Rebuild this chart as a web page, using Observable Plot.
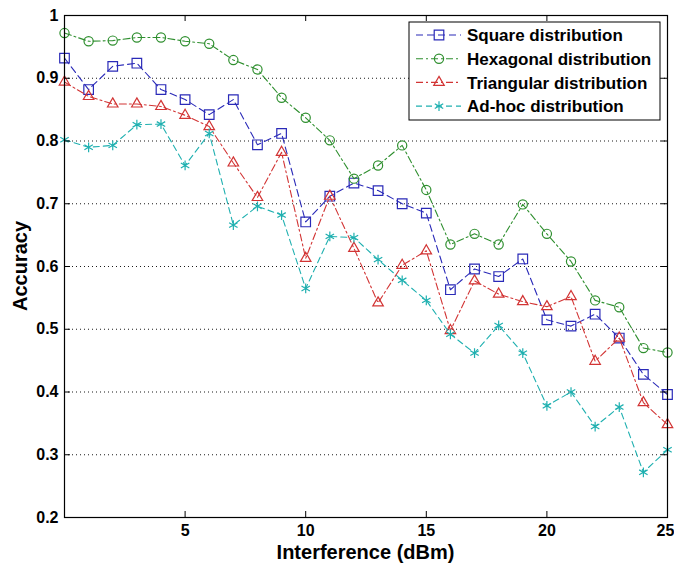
<!DOCTYPE html>
<html>
<head>
<meta charset="utf-8">
<script src="https://cdn.jsdelivr.net/npm/d3@7"></script>
<script src="https://cdn.jsdelivr.net/npm/@observablehq/plot@0.6"></script>
<style>
  body { margin: 0; background: #fff; }
  #chart svg { font-family: "Liberation Sans", Arial, sans-serif; background: #fff; }
</style>
</head>
<body>
<div id="chart"></div>
<script>
// Interference levels (dBm)
const interference = [0, 1, 2, 3, 4, 5, 6, 7, 8, 9, 10, 11, 12, 13, 14, 15, 16, 17, 18, 19, 20, 21, 22, 23, 24, 25];

// Accuracy per node distribution
const squareAcc     = [0.932, 0.882, 0.919, 0.924, 0.882, 0.866, 0.842, 0.866, 0.794, 0.812, 0.671, 0.712, 0.733, 0.721, 0.700, 0.685, 0.563, 0.596, 0.584, 0.612, 0.515, 0.505, 0.524, 0.486, 0.428, 0.396];
const hexagonalAcc  = [0.972, 0.959, 0.960, 0.965, 0.965, 0.959, 0.955, 0.929, 0.914, 0.869, 0.837, 0.801, 0.740, 0.761, 0.793, 0.722, 0.635, 0.652, 0.635, 0.699, 0.652, 0.608, 0.546, 0.535, 0.470, 0.463];
const triangularAcc = [0.894, 0.871, 0.859, 0.859, 0.855, 0.841, 0.823, 0.765, 0.710, 0.782, 0.613, 0.712, 0.629, 0.542, 0.602, 0.625, 0.498, 0.577, 0.556, 0.544, 0.536, 0.552, 0.449, 0.486, 0.383, 0.348];
const adhocAcc      = [0.802, 0.790, 0.793, 0.826, 0.827, 0.761, 0.812, 0.666, 0.696, 0.682, 0.565, 0.648, 0.646, 0.611, 0.578, 0.546, 0.492, 0.462, 0.506, 0.462, 0.378, 0.400, 0.345, 0.376, 0.272, 0.308];

const seriesNames = ["Square distribution", "Hexagonal distribution", "Triangular distribution", "Ad-hoc distribution"];
const xTicks = [5, 10, 15, 20, 25];
const yTicks = [0.2, 0.3, 0.4, 0.5, 0.6, 0.7, 0.8, 0.9, 1];

const series = [
  {name: seriesNames[0], values: squareAcc,     color: "#2a2ab8", symbol: "square",   r: 5.4, dash: "7,4"},
  {name: seriesNames[1], values: hexagonalAcc,  color: "#2f8f2f", symbol: "circle",   r: 4.6, dash: "7,3,2,3"},
  {name: seriesNames[2], values: triangularAcc, color: "#d23434", symbol: "triangle", r: 3.9, dash: "7,3,2,3"},
  {name: seriesNames[3], values: adhocAcc,      color: "#1fb0b0", symbol: "asterisk", r: 4.6, dash: "6,4"}
];

const W = 674, H = 566;
const M = {left: 64, right: 7, top: 15, bottom: 49};
const innerH = H - M.top - M.bottom;

const axisStyle = {tickSize: 0, label: null, fontSize: 16, fontWeight: "bold", fill: "#000"};

const marks = [];
// dotted horizontal grid
marks.push(Plot.gridY(yTicks.slice(1, -1), {stroke: "#000", strokeOpacity: 0.9, strokeDasharray: "1,3", strokeWidth: 1}));
for (const s of series) {
  const rows = s.values.map((v, i) => ({x: interference[i], y: v}));
  marks.push(Plot.line(rows, {x: "x", y: "y", stroke: s.color, strokeWidth: 1.1, strokeDasharray: s.dash}));
  marks.push(Plot.dot(rows, {x: "x", y: "y", stroke: s.color, fill: "none", symbol: s.symbol, r: s.r, strokeWidth: 1.2}));
}
// inward ticks on all four sides
marks.push(Plot.ruleX(xTicks, {x: d => d, stroke: "#000", insetTop: innerH - 6}));
marks.push(Plot.ruleX(xTicks, {x: d => d, stroke: "#000", insetBottom: innerH - 6}));
marks.push(Plot.ruleY(yTicks, {y: d => d, stroke: "#000", insetRight: W - M.left - M.right - 6}));
marks.push(Plot.ruleY(yTicks, {y: d => d, stroke: "#000", insetLeft: W - M.left - M.right - 6}));
marks.push(Plot.frame({stroke: "#000", strokeWidth: 1.2}));
// the last x label is nudged inward so it stays on the canvas
marks.push(Plot.axisX(xTicks.slice(0, -1), {...axisStyle, tickPadding: 7}));
marks.push(Plot.axisX(xTicks.slice(-1), {...axisStyle, tickPadding: 7, dx: -2}));
marks.push(Plot.axisY(yTicks, {...axisStyle, tickPadding: 6, tickFormat: d3.format("~g")}));

const chart = Plot.plot({
  width: W,
  height: H,
  marginLeft: M.left,
  marginRight: M.right,
  marginTop: M.top,
  marginBottom: M.bottom,
  x: {domain: [0, 25]},
  y: {domain: [0.2, 1]},
  marks
});
document.getElementById("chart").appendChild(chart);

// axis titles and legend
const svg = d3.select(chart);
svg.append("text")
  .attr("x", M.left + (W - M.left - M.right) / 2)
  .attr("y", 559)
  .attr("text-anchor", "middle")
  .attr("font-size", 20).attr("font-weight", "bold").attr("fill", "#000")
  .text("Interference (dBm)");
svg.append("text")
  .attr("transform", `translate(27,${M.top + innerH / 2}) rotate(-90)`)
  .attr("text-anchor", "middle")
  .attr("font-size", 20).attr("font-weight", "bold").attr("fill", "#000")
  .text("Accuracy");

const lg = svg.append("g").attr("transform", "translate(409,22)");
lg.append("rect").attr("width", 251).attr("height", 98).attr("fill", "#fff").attr("stroke", "#000").attr("stroke-width", 1);
const symbolMap = {square: d3.symbolSquare, circle: d3.symbolCircle, triangle: d3.symbolTriangle, asterisk: d3.symbolAsterisk};
series.forEach((s, i) => {
  const cy = 13 + i * 23.7;
  const row = lg.append("g").attr("transform", `translate(0,${cy})`);
  row.append("line").attr("x1", 7).attr("x2", 52).attr("y1", 0).attr("y2", 0)
    .attr("stroke", s.color).attr("stroke-width", 1.1).attr("stroke-dasharray", s.dash);
  row.append("path").attr("transform", "translate(30,0)")
    .attr("d", d3.symbol(symbolMap[s.symbol], s.r * s.r * Math.PI)())
    .attr("fill", "none").attr("stroke", s.color).attr("stroke-width", 1.2);
  row.append("text").attr("x", 58).attr("y", 0).attr("dy", "0.36em")
    .attr("text-anchor", "start")
    .attr("font-size", 17).attr("font-weight", "bold").attr("fill", "#000")
    .text(s.name);
});
</script>
</body>
</html>
